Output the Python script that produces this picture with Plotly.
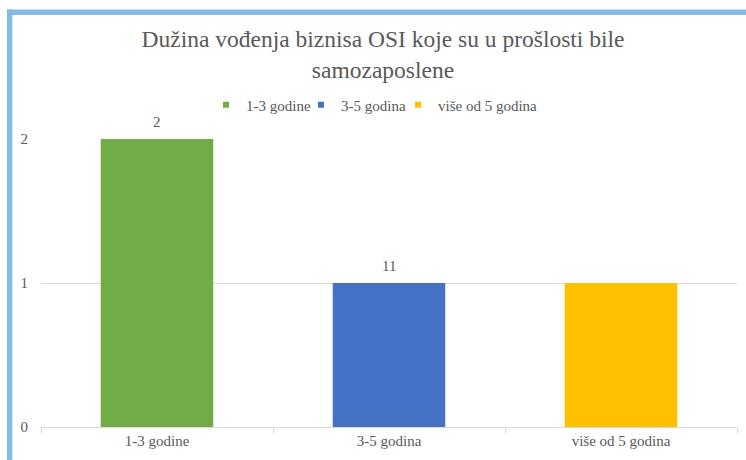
import plotly.graph_objects as go

categories = ["1-3 godine", "3-5 godina", "više od 5 godina"]
values = [2, 1, 1]
label_texts = ["2", "11", ""]
colors = ["#70AD47", "#4472C4", "#FFC000"]
y_ticks = [0, 1, 2]

W, H = 746, 460
L, R, T, B = 41, 9, 139, 33
pw, ph = W - L - R, H - T - B

def px2x(px):
    return (px - L) / pw

def py2y(py):
    return (H - B - py) / ph

font = "Times New Roman, Liberation Serif, serif"
grey = "#595959"

fig = go.Figure()
for c, v, col in zip(categories, values, colors):
    fig.add_trace(go.Bar(
        x=[c], y=[v], name=c, marker=dict(color=col, line=dict(width=0)),
        width=0.485, offset=-0.2425, showlegend=False,
    ))

# legend entries (small square swatches), each in its own legend box
legend_names = ["legend", "legend2", "legend3"]
legend_text_px = [246, 341, 438]
for c, col, lg in zip(categories, colors, legend_names):
    fig.add_trace(go.Scatter(
        x=[None], y=[None], mode="markers", name=c, legend=lg,
        marker=dict(symbol="square", size=6, color=col),
    ))

legend_layout = {}
for lg, tx in zip(legend_names, legend_text_px):
    legend_layout[lg] = dict(
        x=px2x(tx - 40), xanchor="left", xref="paper",
        y=py2y(105), yanchor="middle",
        font=dict(family=font, size=15, color=grey),
        bgcolor="rgba(0,0,0,0)",
    )

annotations = [
    dict(x=c, y=v, xref="x", yref="y", text=t, showarrow=False,
         yanchor="middle", yshift=17,
         font=dict(family=font, size=15, color=grey))
    for c, v, t in zip(categories, values, label_texts) if t
]

fig.update_layout(
    width=W, height=H,
    margin=dict(l=L, r=R, t=T, b=B),
    paper_bgcolor="white", plot_bgcolor="white",
    barmode="overlay",
    title=dict(
        text="Dužina vođenja biznisa OSI koje su u prošlosti bile<br>samozaposlene",
        x=383 / W, xanchor="center", xref="container", y=1 - 47 / H, yanchor="middle",
        font=dict(family=font, size=23.5, color=grey),
    ),
    annotations=annotations,
    xaxis=dict(
        showgrid=False, showline=True, linecolor="#D9D9D9", linewidth=1,
        ticks="outside", tickcolor="#D9D9D9", ticklen=5, tickson="boundaries",
        tickfont=dict(family=font, size=15, color=grey),
        fixedrange=True,
    ),
    yaxis=dict(
        range=[0, 2], tickvals=y_ticks, showgrid=True, gridcolor="#D9D9D9",
        zeroline=False, showline=False, ticks="",
        tickfont=dict(family=font, size=15, color=grey),
        ticklabelstandoff=12,
    ),
    shapes=[
        dict(type="rect", xref="paper", yref="paper",
             x0=px2x(7), x1=px2x(W + 5), y0=py2y(15), y1=py2y(9.5),
             fillcolor="#85B9E6", line=dict(width=0), layer="above"),
        dict(type="rect", xref="paper", yref="paper",
             x0=px2x(7), x1=px2x(12.3), y0=py2y(H + 5), y1=py2y(9.5),
             fillcolor="#85B9E6", line=dict(width=0), layer="above"),
    ],
    **legend_layout,
)

fig.write_html(
    "out.html",
    config={"displayModeBar": False},
    post_script="document.body.style.margin='0';document.body.style.overflow='hidden';",
)
